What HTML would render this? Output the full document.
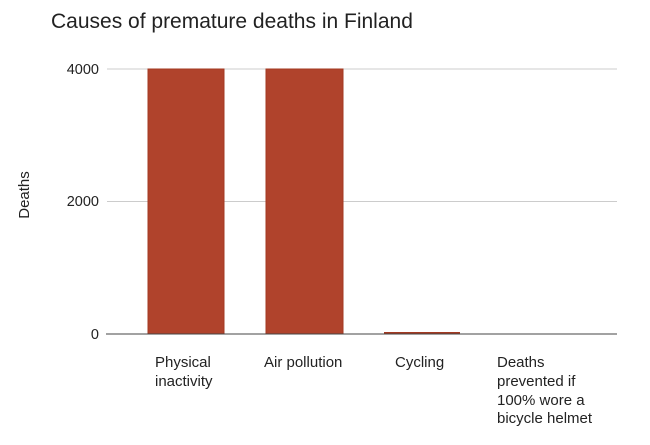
<!DOCTYPE html>
<html><head><style>
body{margin:0;background:#fff;}
svg text{font-family:"Liberation Sans",Arial,sans-serif;fill:#222;}
</style></head><body>
<svg width="650" height="440" xmlns="http://www.w3.org/2000/svg">
<rect width="650" height="440" fill="#fff"/>
<text x="51" y="28" font-size="21">Causes of premature deaths in Finland</text>
<line x1="107" y1="69" x2="617" y2="69" stroke="#ccc" stroke-width="1"/>
<line x1="107" y1="201.5" x2="617" y2="201.5" stroke="#ccc" stroke-width="1"/>
<text x="99" y="74" font-size="14.5" text-anchor="end">4000</text>
<text x="99" y="206" font-size="14.5" text-anchor="end">2000</text>
<text x="99" y="339" font-size="14.5" text-anchor="end">0</text>
<text transform="translate(29,195) rotate(-90)" font-size="15" text-anchor="middle">Deaths</text>
<rect x="148" y="69" width="76" height="265" fill="#b0432c" stroke="#a33a22" stroke-width="1"/>
<rect x="266" y="69" width="77" height="265" fill="#b0432c" stroke="#a33a22" stroke-width="1"/>
<rect x="384" y="332" width="76" height="2" fill="#a33a22"/>
<line x1="106" y1="334" x2="617" y2="334" stroke="#444" stroke-width="1"/>
<g font-size="15">
<text x="155" y="367">Physical</text>
<text x="155" y="386">inactivity</text>
<text x="264" y="367">Air pollution</text>
<text x="395" y="367">Cycling</text>
<text x="497" y="367">Deaths</text>
<text x="497" y="386">prevented if</text>
<text x="497" y="405">100% wore a</text>
<text x="497" y="423">bicycle helmet</text>
</g>
</svg>
</body></html>
